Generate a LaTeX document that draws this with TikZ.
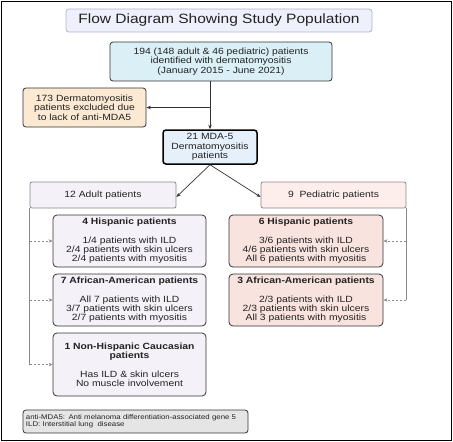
\documentclass[tikz,border=0pt]{standalone}
\usepackage{fontspec}
\setmainfont{Liberation Sans}[FakeStretch=1.15]
\usetikzlibrary{positioning}
\usetikzlibrary{arrows.meta}

\definecolor{textogris}{HTML}{222222}
\definecolor{bordeosc}{HTML}{333333}
\definecolor{bordeclaro}{HTML}{8A8A8A}
\definecolor{titulofondo}{HTML}{EEF1FB}
\definecolor{titulobord}{HTML}{AEB6D0}
\definecolor{azulcaja}{HTML}{DAEFF6}
\definecolor{azulmda}{HTML}{E6F0FB}
\definecolor{naranjacaja}{HTML}{FBE9D3}
\definecolor{lilacaja}{HTML}{F4F1F9}
\definecolor{rosacaja}{HTML}{FDEEEC}
\definecolor{rosasub}{HTML}{F9E3DE}
\definecolor{griscaja}{HTML}{E5E5E5}

\tikzset{
  caja/.style={draw=bordeosc, line width=0.8pt, rounded corners=3pt, align=center,
    text=textogris, inner sep=0pt, font=\fontsize{9}{9.3}\selectfont},
  cabecera/.style={caja, draw=bordeclaro, rounded corners=2pt},
  subcaja/.style={caja, rounded corners=4pt, minimum width=153pt, minimum height=52pt},
  flecha/.style={-{Stealth[length=4.5pt,width=3.5pt]}, line width=0.7pt, draw=bordeosc},
  guia/.style={line width=0.8pt, draw=bordeclaro},
  puntos/.style={-{Stealth[length=4pt,width=3.5pt]}, line width=0.7pt, draw=bordeclaro,
    dash pattern=on 2pt off 2pt}
}

\begin{document}
\begin{tikzpicture}[x=1pt,y=-1pt]
  \useasboundingbox (0,0) rectangle (453,442);
  % Marco exterior
  \draw[line width=1.4pt] (1.5,1.5) rectangle (451.5,440.5);

  % Titulo y cajas superiores
  \node[caja, draw=titulobord, fill=titulofondo, minimum width=306pt, minimum height=23pt,
    font=\fontsize{13.5}{15}\selectfont] (titulo) at (219,20.5) {Flow Diagram Showing Study Population};
  \node[caja, fill=azulcaja, minimum width=222pt, minimum height=39pt] (total) at (221,61.5)
    {194 (148 adult \& 46 pediatric) patients\\identified with dermatomyositis\\ (January 2015 - June 2021)};
  \node[caja, fill=naranjacaja, minimum width=123pt, minimum height=39pt] (excl) at (84.5,107.5)
    {173 Dermatomyositis\\patients excluded due\\to lack of anti-MDA5};
  \node[caja, fill=azulmda, line width=1.5pt, draw=black, minimum width=94pt, minimum height=34pt] (mda) at (210,147)
    {21 MDA-5\\Dermatomyositis\\patients};

  % Cabeceras de grupo
  \node[cabecera, fill=lilacaja, minimum width=146pt, minimum height=26pt] (adultos) at (103,195) {12 Adult patients};
  \node[cabecera, fill=rosacaja, minimum width=145pt, minimum height=26pt] (pediat) at (333.5,195) {9\ \ Pediatric patients};

  % Subgrupos adultos
  \node[subcaja, fill=lilacaja] (ahisp) at (129.5,241)
    {\textbf{4 Hispanic patients}\\[9.3pt]1/4 patients with ILD\\2/4 patients with skin ulcers\\2/4 patients with myositis};
  \node[subcaja, fill=lilacaja] (aafro) at (129.5,300)
    {\textbf{7 African-American patients}\\[9.3pt]All 7 patients with ILD\\3/7 patients with skin ulcers\\2/7 patients with myositis};
  \node[subcaja, fill=lilacaja, minimum height=63pt] (acauc) at (129.5,364.5)
    {\textbf{1 Non-Hispanic Caucasian}\\\textbf{patients}\\[9.3pt]Has ILD \& skin ulcers\\No muscle involvement};

  % Subgrupos pediatricos
  \node[subcaja, fill=rosasub, minimum width=154pt] (phisp) at (306,241)
    {\textbf{6 Hispanic patients}\\[9.3pt]3/6 patients with ILD\\4/6 patients with skin ulcers\\All 6 patients with myositis};
  \node[subcaja, fill=rosasub, minimum width=154pt] (pafro) at (306,300)
    {\textbf{3 African-American patients}\\[9.3pt]2/3 patients with ILD\\2/3 patients with skin ulcers\\All 3 patients with myositis};

  % Leyenda
  \node[caja, fill=griscaja, minimum width=225pt, minimum height=23pt, align=left, text width=219pt,
    font=\fontsize{6.8}{6.9}\selectfont] (leyenda) at (135.5,421.5)
    {anti-MDA5: Anti melanoma differentiation-associated gene 5\\ILD: Interstitial lung\ \ disease};

  % Flechas principales
  \coordinate (desvio) at (mda.north |- excl.east);
  \draw[flecha] (mda.north |- total.south) -- (mda.north);
  \draw[flecha] (desvio) -- (excl.east);
  \draw[flecha] (mda.south) -- ([yshift=-2pt]adultos.east);
  \draw[flecha] (mda.south) -- ([yshift=-2pt]pediat.west);

  % Guias laterales
  \coordinate (ga1) at (adultos.south west |- ahisp.west);
  \coordinate (ga2) at (adultos.south west |- aafro.west);
  \coordinate (ga3) at (adultos.south west |- acauc.west);
  \coordinate (gp1) at (pediat.south east |- phisp.east);
  \coordinate (gp2) at (pediat.south east |- pafro.east);
  \draw[guia] (adultos.south west) -- (ga3);
  \draw[guia] (pediat.south east) -- (gp2);
  \draw[puntos] (ga1) -- (ahisp.west);
  \draw[puntos] (ga2) -- (aafro.west);
  \draw[puntos] (ga3) -- (acauc.west);
  \draw[puntos] (gp1) -- (phisp.east);
  \draw[puntos] (gp2) -- (pafro.east);
\end{tikzpicture}
\end{document}
